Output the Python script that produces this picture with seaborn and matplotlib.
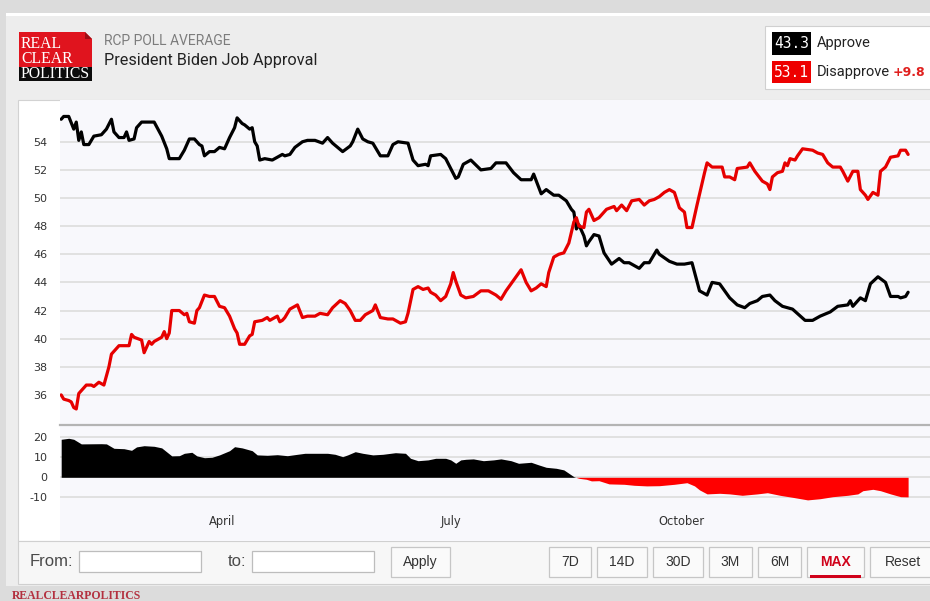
import matplotlib
matplotlib.use("Agg")
import matplotlib.pyplot as plt
from matplotlib.patches import Rectangle, Polygon
import numpy as np
import pandas as pd
import seaborn as sns

# ---------------------------------------------------------------- data
approve_dates = [
    "01-27", "01-28", "01-30", "02-01", "02-02", "02-03", "02-04", "02-05", "02-07", "02-09",
    "02-12", "02-14", "02-16", "02-17", "02-19", "02-21", "02-22", "02-23", "02-25", "02-26",
    "02-28", "03-05", "03-08", "03-10", "03-11", "03-15", "03-17", "03-19", "03-21", "03-23",
    "03-24", "03-25", "03-27", "03-29", "03-31", "04-02", "04-04", "04-06", "04-07", "04-09",
    "04-10", "04-12", "04-13", "04-14", "04-15", "04-16", "04-18", "04-21", "04-23", "04-25",
    "04-26", "04-28", "04-30", "05-03", "05-05", "05-08", "05-11", "05-13", "05-15", "05-19",
    "05-22", "05-23", "05-25", "05-27", "05-29", "05-31", "06-03", "06-06", "06-08", "06-10",
    "06-14", "06-16", "06-18", "06-21", "06-22", "06-23", "06-27", "06-29", "07-03", "07-04",
    "07-06", "07-09", "07-13", "07-17", "07-19", "07-23", "07-26", "07-29", "08-02", "08-03",
    "08-06", "08-08", "08-11", "08-13", "08-16", "08-18", "08-19", "08-20", "08-21", "08-23",
    "08-24", "08-25", "08-27", "08-29", "08-31", "09-03", "09-06", "09-08", "09-10", "09-14",
    "09-16", "09-18", "09-21", "09-22", "09-26", "09-29", "10-02", "10-05", "10-08", "10-11",
    "10-13", "10-16", "10-20", "10-23", "10-26", "10-28", "10-31", "11-02", "11-05", "11-07",
    "11-10", "11-12", "11-14", "11-19", "11-22", "11-25", "11-29", "12-02", "12-06", "12-07",
    "12-08", "12-11", "12-13", "12-15", "12-18", "12-21", "12-23", "12-26", "12-27", "12-29",
    "12-30",
]
approve = [
    55.6, 55.8, 55.8, 54.9, 55.4, 54.1, 54.7, 53.8, 53.8, 54.4,
    54.5, 54.9, 55.6, 54.7, 54.3, 54.3, 54.7, 54.1, 54.2, 55.0,
    55.4, 55.4, 54.4, 53.5, 52.8, 52.8, 53.4, 54.2, 54.2, 53.8,
    53.7, 53.0, 53.3, 53.3, 53.6, 53.5, 54.3, 55.0, 55.7, 55.3,
    55.2, 54.9, 55.0, 54.0, 53.7, 52.7, 52.8, 52.7, 52.9, 53.1,
    53.0, 53.1, 53.6, 54.0, 54.1, 54.1, 53.9, 54.3, 53.9, 53.3,
    53.7, 54.0, 54.9, 54.2, 54.0, 53.9, 53.0, 53.0, 53.8, 54.0,
    53.9, 52.7, 52.3, 52.4, 52.3, 53.0, 53.1, 52.8, 51.4, 51.5,
    52.4, 52.7, 52.0, 52.1, 52.5, 52.5, 51.8, 51.3, 51.3, 51.7,
    50.3, 50.6, 50.2, 50.2, 49.8, 49.2, 49.0, 47.8, 48.1, 47.3,
    46.6, 46.9, 47.4, 47.3, 46.1, 45.3, 45.7, 45.4, 45.4, 45.0,
    45.4, 45.4, 46.3, 46.0, 45.5, 45.3, 45.3, 45.4, 43.4, 43.1,
    44.0, 43.9, 42.9, 42.4, 42.2, 42.5, 42.7, 43.0, 43.1, 42.7,
    42.3, 42.2, 42.1, 41.3, 41.3, 41.6, 41.9, 42.3, 42.4, 42.7,
    42.3, 42.9, 42.7, 43.9, 44.4, 44.0, 43.0, 43.0, 42.9, 43.0,
    43.3,
]

disapprove_dates = [
    "01-27", "01-28", "01-30", "01-31", "02-01", "02-02", "02-03", "02-06", "02-08", "02-09",
    "02-11", "02-12", "02-13", "02-15", "02-16", "02-17", "02-19", "02-21", "02-23", "02-24",
    "02-25", "02-28", "03-01", "03-03", "03-04", "03-05", "03-08", "03-09", "03-10", "03-11",
    "03-12", "03-15", "03-17", "03-18", "03-19", "03-21", "03-22", "03-23", "03-25", "03-27",
    "03-29", "03-31", "04-02", "04-04", "04-06", "04-07", "04-08", "04-10", "04-12", "04-13",
    "04-14", "04-17", "04-19", "04-20", "04-22", "04-23", "04-24", "04-25", "04-26", "04-28",
    "04-30", "05-01", "05-03", "05-05", "05-08", "05-10", "05-13", "05-15", "05-18", "05-20",
    "05-22", "05-24", "05-26", "05-28", "05-31", "06-01", "06-03", "06-06", "06-08", "06-11",
    "06-13", "06-14", "06-16", "06-18", "06-20", "06-22", "06-23", "06-25", "06-27", "06-29",
    "07-01", "07-02", "07-03", "07-05", "07-07", "07-10", "07-13", "07-16", "07-19", "07-21",
    "07-23", "07-25", "07-29", "07-31", "08-02", "08-04", "08-06", "08-08", "08-09", "08-11",
    "08-13", "08-15", "08-17", "08-19", "08-20", "08-21", "08-23", "08-24", "08-25", "08-27",
    "08-29", "09-01", "09-04", "09-05", "09-07", "09-09", "09-11", "09-14", "09-16", "09-18",
    "09-20", "09-22", "09-24", "09-26", "09-28", "09-30", "10-02", "10-03", "10-05", "10-07",
    "10-10", "10-11", "10-13", "10-17", "10-18", "10-20", "10-22", "10-23", "10-27", "10-28",
    "10-30", "11-02", "11-04", "11-05", "11-06", "11-08", "11-10", "11-11", "11-12", "11-13",
    "11-15", "11-16", "11-18", "11-22", "11-24", "11-26", "11-28", "11-30", "12-03", "12-04",
    "12-06", "12-08", "12-10", "12-11", "12-13", "12-14", "12-16", "12-18", "12-19", "12-21",
    "12-23", "12-26", "12-27", "12-29", "12-30",
]
disapprove = [
    36.0, 35.7, 35.6, 35.5, 35.1, 35.0, 36.1, 36.7, 36.7, 36.6,
    36.9, 36.8, 36.7, 38.0, 38.9, 39.1, 39.5, 39.5, 39.5, 40.3,
    40.1, 39.9, 39.0, 39.8, 39.6, 39.8, 40.1, 40.5, 40.0, 40.4,
    42.0, 42.0, 41.7, 41.8, 41.2, 41.1, 42.0, 42.2, 43.1, 43.0,
    43.0, 42.3, 42.2, 41.6, 40.7, 40.4, 39.6, 39.6, 40.2, 40.3,
    41.2, 41.3, 41.5, 41.3, 41.5, 41.6, 41.2, 41.3, 41.5, 42.1,
    42.3, 42.4, 41.5, 41.6, 41.6, 41.8, 41.7, 42.2, 42.7, 42.5,
    42.0, 41.3, 41.3, 41.7, 42.0, 42.4, 41.5, 41.4, 41.4, 41.1,
    41.2, 41.8, 43.5, 43.7, 43.5, 43.6, 43.3, 43.1, 42.7, 43.0,
    43.9, 44.7, 44.1, 43.1, 42.9, 43.0, 43.4, 43.4, 43.1, 42.8,
    43.4, 43.9, 44.9, 44.0, 43.4, 43.6, 43.9, 43.7, 44.7, 45.8,
    46.0, 46.1, 46.8, 48.3, 48.6, 48.0, 47.9, 49.0, 49.2, 48.4,
    48.6, 49.2, 49.4, 49.1, 49.5, 49.1, 49.8, 49.9, 49.5, 49.8,
    49.9, 50.1, 50.4, 50.6, 50.4, 49.3, 49.0, 47.9, 47.9, 49.5,
    51.8, 52.5, 52.2, 52.2, 51.5, 51.5, 51.3, 52.1, 52.2, 52.5,
    51.9, 51.2, 51.0, 50.6, 51.5, 51.8, 51.9, 52.5, 52.3, 52.8,
    52.7, 53.0, 53.5, 53.4, 53.2, 53.1, 52.5, 52.2, 52.2, 51.9,
    51.2, 51.9, 51.9, 50.6, 50.2, 49.9, 50.4, 50.2, 51.9, 52.2,
    52.9, 53.0, 53.4, 53.4, 53.1,
]

spread_dates = [
    "01-27", "01-30", "02-01", "02-04", "02-12", "02-14", "02-17", "02-21", "02-24", "02-26",
    "03-01", "03-05", "03-08", "03-12", "03-15", "03-17", "03-20", "03-22", "03-25", "03-28",
    "03-31", "04-04", "04-06", "04-09", "04-13", "04-15", "04-19", "04-23", "04-27", "05-01",
    "05-04", "05-08", "05-13", "05-16", "05-19", "05-21", "05-24", "05-27", "05-31", "06-04",
    "06-09", "06-13", "06-15", "06-18", "06-22", "06-25", "06-29", "07-01", "07-03", "07-05",
    "07-07", "07-10", "07-14", "07-18", "07-21", "07-25", "07-28", "08-02", "08-05", "08-08",
    "08-12", "08-15", "08-17", "08-19", "08-21", "08-24", "08-26", "08-29", "09-02", "09-08",
    "09-12", "09-17", "09-22", "09-28", "10-03", "10-06", "10-08", "10-11", "10-16", "10-20",
    "10-25", "10-31", "11-04", "11-09", "11-14", "11-20", "11-25", "11-30", "12-06", "12-10",
    "12-12", "12-16", "12-19", "12-23", "12-27", "12-30",
]
spread = [
    19.0, 19.5, 19.0, 16.7, 16.8, 16.7, 14.5, 14.3, 13.5, 15.2,
    15.8, 15.5, 14.7, 10.7, 10.8, 12.0, 12.5, 10.7, 9.8, 10.0,
    11.2, 13.3, 15.3, 14.7, 13.3, 11.2, 11.0, 11.3, 10.8, 11.5,
    12.0, 12.0, 12.0, 11.5, 10.3, 11.2, 12.8, 12.0, 11.2, 11.5,
    12.3, 12.0, 9.5, 8.3, 8.7, 9.5, 9.5, 8.7, 7.0, 8.7,
    9.0, 9.2, 8.3, 8.7, 9.2, 8.3, 7.0, 7.5, 6.2, 5.0,
    4.5, 3.7, 2.0, 0.3, -0.5, -1.0, -1.8, -1.7, -3.3, -3.5,
    -4.0, -4.3, -4.2, -3.5, -2.7, -4.3, -6.3, -8.3, -8.0, -8.3,
    -9.0, -8.3, -7.7, -9.0, -10.0, -11.3, -10.7, -9.7, -9.0, -8.3,
    -6.7, -6.0, -6.7, -8.3, -9.7, -9.8,
]

year = "2021"
month_labels = ["April", "July", "October"]
month_starts = ["04-01", "07-01", "10-01"]
main_ticks = [36, 38, 40, 42, 44, 46, 48, 50, 52, 54]
spread_ticks = [-10, 0, 10, 20]
latest_approve = approve[-1]
latest_disapprove = disapprove[-1]
buttons = ["7D", "14D", "30D", "3M", "6M", "MAX", "Reset"]

# ---------------------------------------------------------------- frames
def to_dt(days):
    return pd.to_datetime([f"{year}-{d}" for d in days])

approve_df = pd.DataFrame({"date": to_dt(approve_dates), "value": approve})
disapprove_df = pd.DataFrame({"date": to_dt(disapprove_dates), "value": disapprove})
spread_dt = to_dt(spread_dates)
spread_arr = np.array(spread)

# ---------------------------------------------------------------- figure
W, H = 930, 601
fig = plt.figure(figsize=(W / 100, H / 100), dpi=100)
fig.patch.set_facecolor("#dcdcdc")


def px_rect(x0, y0, x1, y1, **kw):
    r = Rectangle((x0 / W, 1 - y1 / H), (x1 - x0) / W, (y1 - y0) / H,
                  transform=fig.transFigure, **kw)
    fig.add_artist(r)
    return r


def px_text(x, y, s, **kw):
    return fig.text(x / W, 1 - y / H, s, **kw)


# page panels
px_rect(6, 13, 935, 586, facecolor="#ededed", edgecolor="none", zorder=0)
px_rect(6, 13, 935, 16, facecolor="#ffffff", edgecolor="none", zorder=0)
px_rect(18, 100, 935, 541, facecolor="#ffffff", edgecolor="#d2d2d2", lw=0.8, zorder=0)
px_rect(18, 541, 935, 584, facecolor="#f7f7f7", edgecolor="#d0d0d0", lw=0.8, zorder=0)

# logo
fig.add_artist(Polygon([(19 / W, 1 - 32 / H), (85 / W, 1 - 32 / H), (92 / W, 1 - 39 / H),
                        (92 / W, 1 - 67 / H), (19 / W, 1 - 67 / H)],
                       closed=True, transform=fig.transFigure,
                       facecolor="#e0141e", edgecolor="none", zorder=1))
fig.add_artist(Polygon([(85 / W, 1 - 32 / H), (92 / W, 1 - 39 / H), (85 / W, 1 - 39 / H)],
                       closed=True, transform=fig.transFigure,
                       facecolor="#9e0d14", edgecolor="none", zorder=1))
px_rect(19, 67, 92, 81, facecolor="#0c0c0c", edgecolor="none", zorder=1)
serif = ["Liberation Serif", "DejaVu Serif"]
px_text(21, 59, "REAL\nCLEAR\nPOLITICS", color="white", fontsize=11.3, family=serif,
        va="center", ha="left", linespacing=0.95, zorder=2)

# header text
px_text(104, 41, "RCP POLL AVERAGE", color="#7c7c7c", fontsize=10, family="Roboto",
        va="center", ha="left")
px_text(104, 61, "President Biden Job Approval", color="#222222", fontsize=11.7,
        family="Roboto", va="center", ha="left")

# latest-values box
px_rect(765, 26, 940, 89, facecolor="#ffffff", edgecolor="#d0d0d0", lw=0.8, zorder=1)
px_rect(772, 32, 811, 55, facecolor="#000000", edgecolor="none", zorder=2)
px_rect(772, 61, 811, 83, facecolor="#ee0000", edgecolor="none", zorder=2)
px_text(791.5, 44, f"{latest_approve:.1f}", color="white", fontsize=10.5,
        family="DejaVu Sans Mono", va="center", ha="center", zorder=3)
px_text(791.5, 72.5, f"{latest_disapprove:.1f}", color="white", fontsize=10.5,
        family="DejaVu Sans Mono", va="center", ha="center", zorder=3)
px_text(817, 43.5, "Approve", color="#222222", fontsize=10.5, family="Roboto",
        va="center", ha="left", zorder=3)
px_text(817, 72, "Disapprove", color="#222222", fontsize=10.5, family="Roboto",
        va="center", ha="left", zorder=3)
px_text(893, 72, f"+{latest_disapprove - latest_approve:.1f}", color="#e0201e",
        fontsize=9, fontweight="bold", family="DejaVu Sans", va="center", ha="left", zorder=3)

# ---------------------------------------------------------------- axes
x_left = pd.Timestamp("2021-01-26 12:40")
x_right = pd.Timestamp("2022-01-07 17:00")
plot_bg = "#f8f8fc"
grid_col = "#dadada"

ax = fig.add_axes([60 / W, 1 - 425 / H, 870 / W, 325 / H])
ax2 = fig.add_axes([60 / W, 1 - 541 / H, 870 / W, 116 / H])

for a in (ax, ax2):
    a.set_facecolor(plot_bg)
    a.set_axisbelow(True)
    for s in a.spines.values():
        s.set_visible(False)
    a.yaxis.grid(True, color=grid_col, lw=1.1)
    a.xaxis.grid(False)
    a.tick_params(axis="y", length=0, pad=9, labelsize=8, labelcolor="#333333")
    a.tick_params(axis="x", length=0, labelbottom=False)

sns.lineplot(data=approve_df, x="date", y="value", ax=ax, color="#000000",
             linewidth=2.3, estimator=None)
sns.lineplot(data=disapprove_df, x="date", y="value", ax=ax, color="#e60000",
             linewidth=2.3, estimator=None)
for ln in ax.lines:
    ln.set_solid_joinstyle("round")
    ln.set_solid_capstyle("round")

ax.set_xlim(x_left, x_right)
ax.set_ylim(33.86, 56.97)
ax.set_yticks(main_ticks)
ax.set_yticklabels([str(t) for t in main_ticks])
ax.set_xticks([])
ax.set_xlabel("")
ax.set_ylabel("")

# spread panel
ax2.fill_between(spread_dt, spread_arr, 0, where=spread_arr >= 0, interpolate=True,
                 color="#000000", lw=0)
ax2.fill_between(spread_dt, spread_arr, 0, where=spread_arr <= 0, interpolate=True,
                 color="#ff0000", lw=0)
ax2.set_xlim(x_left, x_right)
ax2.set_ylim(-31.85, 26.15)
ax2.set_yticks(spread_ticks)
ax2.set_yticklabels([str(t) for t in spread_ticks])
ax2.set_xticks([])
ax2.spines["top"].set_visible(True)
ax2.spines["top"].set_color("#b4b4b4")
ax2.spines["top"].set_linewidth(1.6)

for lab, d in zip(month_labels, month_starts):
    ax2.text(pd.Timestamp(f"{year}-{d}"), -22.3, lab, ha="center", va="center",
             fontsize=8.3, color="#333333")

# ---------------------------------------------------------------- controls
ctrl = ["Liberation Sans", "DejaVu Sans"]
px_text(30, 561, "From:", color="#4a4a4a", fontsize=12, family=ctrl, va="center", ha="left")
px_rect(79, 551, 201, 572, facecolor="#ffffff", edgecolor="#bdbdbd", lw=0.9)
px_text(228, 561, "to:", color="#4a4a4a", fontsize=12, family=ctrl, va="center", ha="left")
px_rect(252, 551, 374, 572, facecolor="#ffffff", edgecolor="#bdbdbd", lw=0.9)
px_rect(391, 547, 450, 577, facecolor="#fafafa", edgecolor="#c6c6c6", lw=0.9)
px_text(420.5, 562, "Apply", color="#333333", fontsize=10, family=ctrl, va="center", ha="center")

btn_spans = [(549, 591), (597, 647), (653, 703), (709, 752), (758, 801), (807, 864), (870, 935)]
for name, (b0, b1) in zip(buttons, btn_spans):
    px_rect(b0, 547, b1, 577, facecolor="#fafafa", edgecolor="#c6c6c6", lw=0.9)
    if name == "MAX":
        px_text((b0 + b1) / 2, 562, name, color="#d0021b", fontsize=10, fontweight="bold",
                family=ctrl, va="center", ha="center")
        px_rect(b0 + 3, 575, b1 - 3, 578, facecolor="#d0021b", edgecolor="none")
    else:
        px_text((b0 + b1) / 2, 562, name, color="#333333", fontsize=10, family=ctrl,
                va="center", ha="center")

px_text(12, 596, "REALCLEARPOLITICS", color="#b3303f", fontsize=8.5, fontweight="bold",
        family=serif, va="center", ha="left")

fig.savefig("out.png", dpi=100, facecolor=fig.get_facecolor())
